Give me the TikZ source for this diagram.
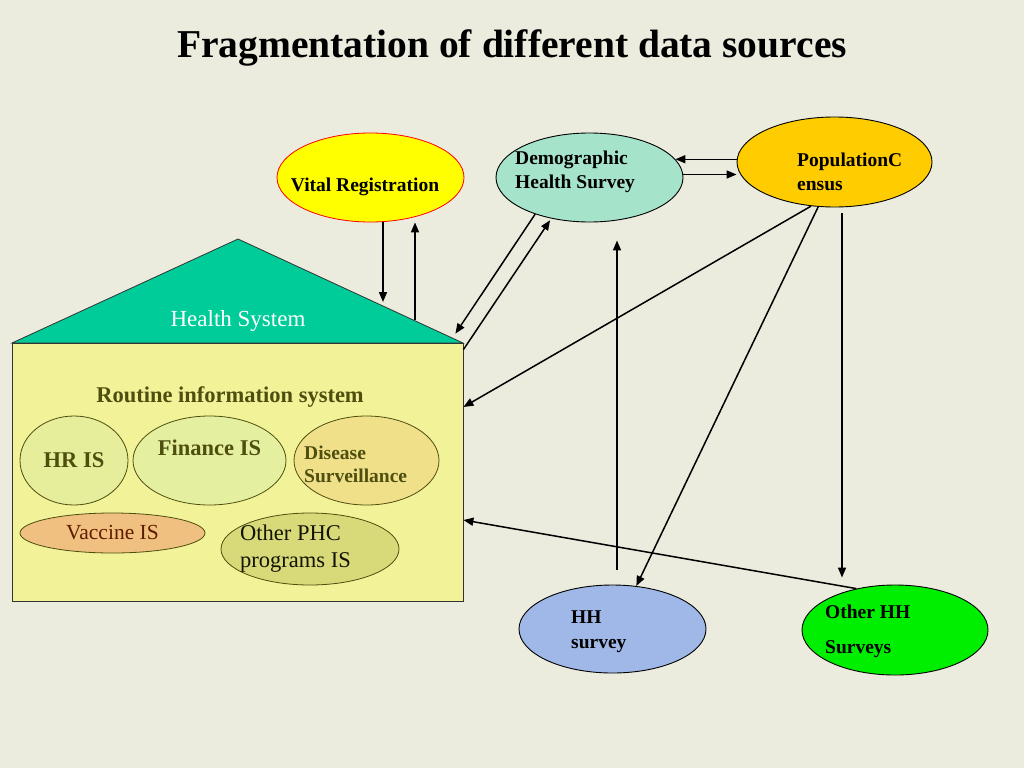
\documentclass[tikz,border=0pt]{standalone}
\usepackage{fontspec}
\setmainfont{Liberation Serif}
\usepackage{tikz}
\usetikzlibrary{shapes.geometric,arrows.meta,positioning,calc}
\usepackage{xcolor}
\definecolor{slidebg}{RGB}{235,236,222}
\definecolor{vryellow}{RGB}{255,255,0}
\definecolor{dhsteal}{RGB}{166,227,203}
\definecolor{pcgold}{RGB}{255,204,0}
\definecolor{roofgreen}{RGB}{0,204,153}
\definecolor{risyellow}{RGB}{242,242,153}
\definecolor{hrgreen}{RGB}{230,238,156}
\definecolor{fingreen}{RGB}{228,240,160}
\definecolor{dissand}{RGB}{240,224,138}
\definecolor{vactan}{RGB}{240,192,128}
\definecolor{phcolive}{RGB}{216,218,122}
\definecolor{hhblue}{RGB}{160,184,232}
\definecolor{ohhgreen}{RGB}{0,238,0}
\definecolor{olivedk}{RGB}{78,78,14}
\definecolor{maroondk}{RGB}{96,28,0}

\begin{document}
\begin{tikzpicture}[
    x=1pt, y=-1pt,
    src/.style={ellipse, draw=black, line width=0.9pt, inner sep=0pt},
    sub/.style={ellipse, draw=olivedk, line width=0.8pt, inner sep=0pt},
    arrow/.style={-{Triangle[length=10pt,width=8pt]}, line width=1.5pt, draw=black},
    lbl/.style={font=\fontsize{19.5}{24}\selectfont\bfseries, inner sep=0pt, align=left},
    sublbl/.style={font=\fontsize{22.5}{27}\selectfont, inner sep=0pt, align=left, text=olivedk}
]

% slide background
\fill[slidebg] (0,0) rectangle (1024,768);

\node[font=\fontsize{39.5}{46}\selectfont\bfseries, inner sep=0pt, anchor=base] (title) at (512,57) {Fragmentation of different data sources};

% health system house
\coordinate (roof-l) at (12,343);
\coordinate (roof-t) at (238,239);
\coordinate (roof-r) at (463,343);
\draw[fill=roofgreen, draw=black!80, line width=0.8pt] (roof-l) -- (roof-t) -- (roof-r) -- cycle;
\node[draw=black!80, fill=risyellow, line width=0.8pt, inner sep=0pt, minimum width=451pt, minimum height=258pt] (ris) at (237.5,472) {};
\node[font=\fontsize{23}{28}\selectfont, text=white, inner sep=0pt] (hs-t) at (238,321) {Health System};
\node[sublbl, font=\fontsize{22.5}{27}\selectfont\bfseries] (ris-t) at (230,397) {Routine information system};

% routine sub-systems
\node[sub, fill=hrgreen, minimum width=108pt, minimum height=89pt, sublbl, font=\fontsize{22.5}{27}\selectfont\bfseries] (hr) at (74,460.5) {HR IS};
\node[sub, fill=fingreen, minimum width=153pt, minimum height=89pt] (fin) at (209.5,460.5) {};
\node[sublbl, font=\fontsize{22.5}{27}\selectfont\bfseries] (fin-t) at (209.5,447.5) {Finance IS};
\node[sub, fill=dissand, minimum width=145pt, minimum height=89pt] (dis) at (366.5,460.5) {};
\node[sublbl, font=\fontsize{19.5}{23}\selectfont\bfseries, anchor=west] (dis-t) at (304,464) {Disease\\Surveillance};
\node[sub, fill=vactan, minimum width=185pt, minimum height=40pt, font=\fontsize{21.5}{26}\selectfont, text=maroondk] (vac) at (112.5,533) {Vaccine IS};
\node[sub, fill=phcolive, minimum width=178pt, minimum height=72pt] (phc) at (310,549) {};
\node[sublbl, text=black!75!olivedk, anchor=west] (phc-t) at (240,549) {Other PHC\\programs IS};

% outside data sources
\node[src, draw=red, line width=0.8pt, fill=vryellow, minimum width=187pt, minimum height=89pt] (vr) at (370.5,177.5) {};
\node[lbl] (vr-t) at (365,187) {Vital Registration};
\node[src, fill=dhsteal, minimum width=187pt, minimum height=89pt] (dhs) at (589.5,177.5) {};
\node[lbl, anchor=west] (dhs-t) at (515,172) {Demographic\\Health Survey};
\node[src, fill=pcgold, minimum width=195pt, minimum height=90pt] (pc) at (834.5,162) {};
\node[lbl, anchor=west] (pc-t) at (797,172) {PopulationC\\ensus};
\node[src, fill=hhblue, minimum width=187pt, minimum height=88pt] (hh) at (612.5,629) {};
\node[lbl, font=\fontsize{19.5}{25}\selectfont\bfseries, anchor=west] (hh-t) at (571,632) {HH\\survey};
\node[src, fill=ohhgreen, minimum width=186pt, minimum height=90pt] (ohh) at (895,630) {};
\node[lbl, font=\fontsize{19.5}{35}\selectfont\bfseries, anchor=west] (ohh-t) at (825,631) {Other HH\\Surveys};

% connectors
\coordinate (vr-in) at (383,302);
\coordinate (hs-up) at (415,320);
\draw[arrow] (vr-in |- vr.south) -- (vr-in);
\draw[arrow] (hs-up) -- (hs-up |- vr.south);
\draw[arrow] (dhs.-146) -- ([xshift=-8pt,yshift=9pt]ris.north east);
\draw[arrow, shorten >=2pt] ([yshift=-7pt]ris.north east) -- (dhs.-133);
\draw[arrow] (pc.west |- dhs.12.7) -- (dhs.12.7);
\draw[arrow] ([yshift=3pt]dhs.east) -- ([yshift=3pt]dhs.east -| pc.west);
\draw[arrow] (pc.-118) -- ([yshift=65pt]ris.east);
\draw[arrow] (pc.-110) -- (hh.61);
\draw[arrow, shorten <=6pt, shorten >=7pt] ([xshift=7.5pt]pc.south) -- ([xshift=7.5pt]pc.south |- ohh.north);
\draw[arrow, shorten <=15pt, shorten >=18pt] ([xshift=4.5pt]hh.north) -- ([xshift=4.5pt]hh.north |- dhs.south);
\draw[arrow] (ohh.133) -- ([yshift=-48pt]ris.east);

\end{tikzpicture}
\end{document}
